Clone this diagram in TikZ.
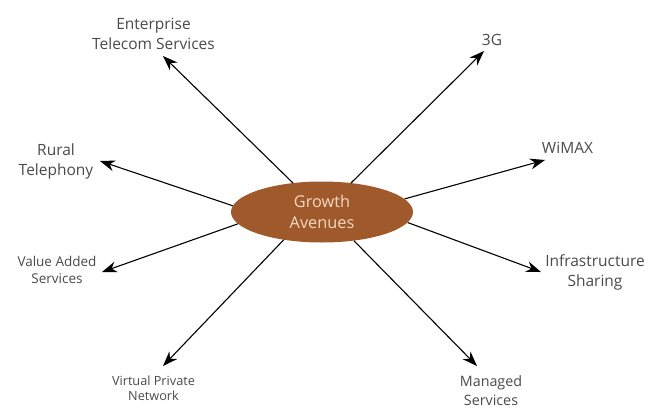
\documentclass[tikz,border=0pt]{standalone}
\usepackage{fontspec}
\setmainfont{Open Sans}
\usetikzlibrary{arrows.meta,shapes.geometric}
\definecolor{hubbrown}{HTML}{A0592B}
\definecolor{hubtext}{HTML}{F2D9C4}
\definecolor{labgray}{HTML}{4A4A4A}
\tikzset{
  avenue/.style={-{Stealth[length=15pt,width=11pt]},line width=1.1pt,black},
  lab/.style={align=center,text=labgray,font=\fontsize{15.5}{20}\selectfont},
  smalllab/.style={lab,font=\fontsize{13.5}{16.7}\selectfont},
  tinylab/.style={lab,font=\fontsize{12.7}{15}\selectfont}
}
\begin{document}
\begin{tikzpicture}[x=1pt,y=-1pt]
\useasboundingbox (0,0) rectangle (661,407);
\node[ellipse,fill=hubbrown,minimum width=182pt,minimum height=61pt,inner sep=0pt,
  align=center,text=hubtext,font=\fontsize{16.3}{21.7}\selectfont] (hub) at (322,212) {Growth\\Avenues};
% tips of the arrows
\coordinate (tEnt) at (163,56);
\coordinate (tThree) at (484,51);
\coordinate (tRural) at (100,161);
\coordinate (tWimax) at (545,160);
\coordinate (tVas) at (102,272);
\coordinate (tInfra) at (541,272);
\coordinate (tVpn) at (163,366);
\coordinate (tMan) at (477,366);
\draw[avenue] (hub.135) -- (tEnt);
\draw[avenue] (hub.45) -- (tThree);
\draw[avenue] (hub.176) -- (tRural);
\draw[avenue] (hub.9) -- (tWimax);
\draw[avenue] (hub.188) -- (tVas);
\draw[avenue] (hub.353) -- (tInfra);
\draw[avenue] (hub.216) -- (tVpn);
\draw[avenue] (hub.318) -- (tMan);
% labels
\node[lab] (ent) at (153.5,34) {Enterprise\\Telecom Services};
\node[lab] (three) at (492,39.5) {3G};
\node[lab] (rural) at (56,161) {Rural\\Telephony};
\node[lab] (wimax) at (567.5,148) {WiMAX};
\node[smalllab] (vas) at (57,270) {Value Added\\Services};
\node[lab] (infra) at (595,272.5) {Infrastructure\\Sharing};
\node[tinylab] (vpn) at (153.5,388) {Virtual Private\\Network};
\node[lab,font=\fontsize{14.3}{18.3}\selectfont] (man) at (491,390.5) {Managed\\Services};
\end{tikzpicture}
\end{document}
